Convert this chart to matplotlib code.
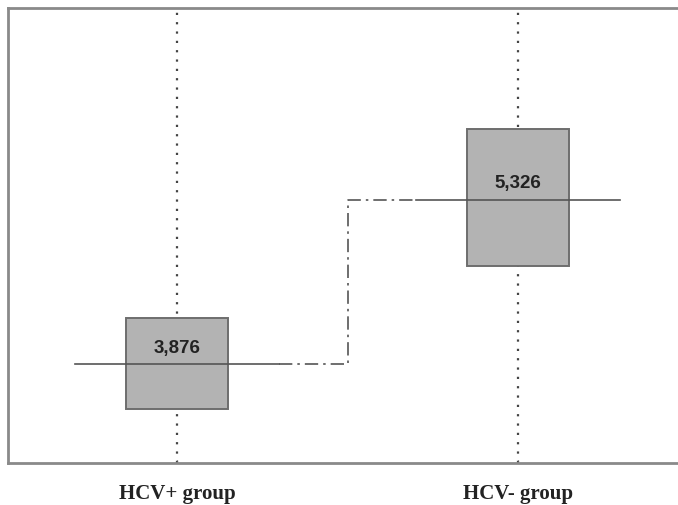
import matplotlib.pyplot as plt
from matplotlib.patches import Rectangle

# data
groups = ["HCV+ group", "HCV- group"]
means = [3.876, 5.326]
box_low = [3.48, 4.74]
box_high = [4.28, 5.95]
mean_labels = ["3,876", "5,326"]

xpos = [1, 2]
box_w = 0.3
half_line = 0.3

fig = plt.figure(figsize=(6.78, 5.05), dpi=100)
ax = fig.add_axes([0.0118, 0.083, 0.99, 0.901])
ax.set_xlim(0.503, 2.474)
ax.set_ylim(3.0, 7.02)

# dotted vertical guides
for x in xpos:
    ax.axvline(x, color="#444444", lw=1.6, ls=(0, (1, 3.2)), zorder=1)

# boxes
for x, lo, hi in zip(xpos, box_low, box_high):
    ax.add_patch(Rectangle((x - box_w / 2, lo), box_w, hi - lo,
                           facecolor="#b3b3b3", edgecolor="#6e6e6e", lw=1.4, zorder=2))

# mean lines
for x, m in zip(xpos, means):
    ax.plot([x - half_line, x + half_line], [m, m], color="#555555", lw=1.2, zorder=3)

# step connector between means
mid = (xpos[0] + xpos[1]) / 2
ax.plot([xpos[0] + half_line, mid, mid, xpos[1] - half_line],
        [means[0], means[0], means[1], means[1]],
        color="#555555", lw=1.2, ls=(0, (8, 3, 1.5, 3)), zorder=3)

# mean value labels
for x, m, lab in zip(xpos, means, mean_labels):
    ax.text(x, m + 0.14, lab, ha="center", va="center", fontsize=13.5,
            fontweight="bold", family="Liberation Sans", color="#222222", zorder=4)

ax.set_xticks(xpos)
ax.set_xticklabels(groups, family="Liberation Serif", fontweight="bold", fontsize=15,
                   color="#222222")
ax.tick_params(axis="x", length=2, direction="in", pad=15, color="#555555")
ax.set_yticks([])

for s in ["left", "top", "bottom"]:
    ax.spines[s].set_color("#8a8a8a")
    ax.spines[s].set_linewidth(2)
ax.spines["right"].set_visible(False)

fig.savefig("out.png", dpi=100)
